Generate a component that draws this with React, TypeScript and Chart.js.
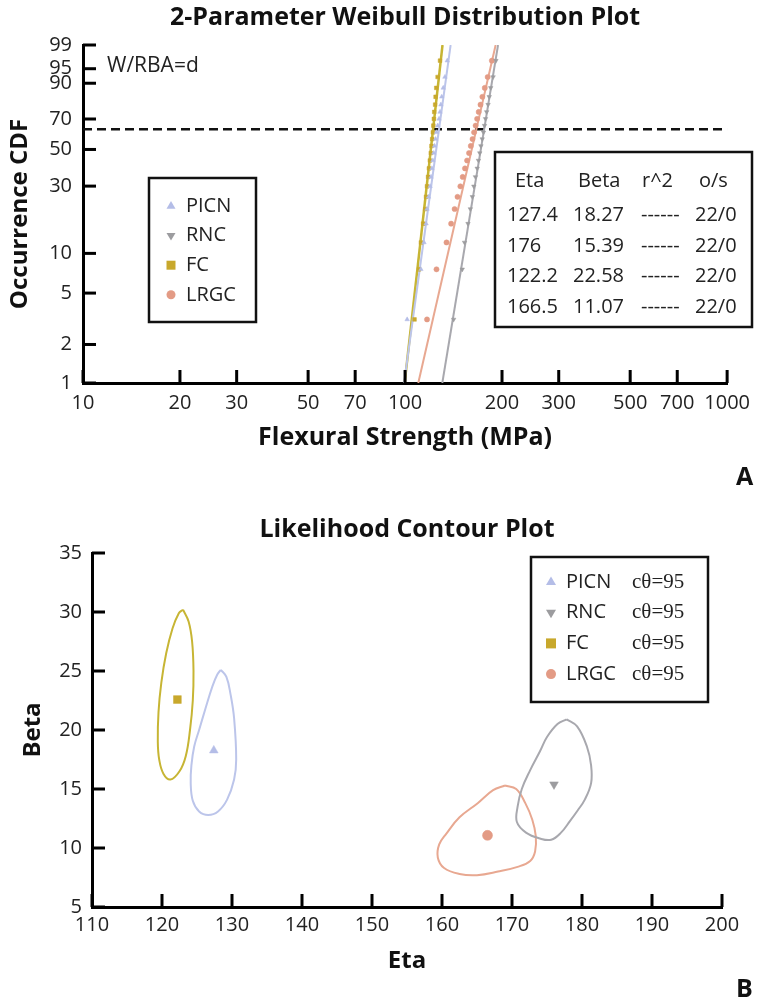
import React, { useEffect, useRef } from "react";
import { Chart, registerables } from "chart.js";

Chart.register(...registerables);

const SANS = '"Open Sans", "Noto Sans", sans-serif';
const SERIF = '"Liberation Serif", "DejaVu Serif", serif';
Chart.defaults.font.family = SANS;

// ---------- shared series info ----------
const SERIES = ["PICN", "RNC", "FC", "LRGC"];
const ETA = [127.4, 176, 122.2, 166.5];
const BETA = [18.27, 15.39, 22.58, 11.07];
const R_SQUARED = ["------", "------", "------", "------"];
const OS = ["22/0", "22/0", "22/0", "22/0"];
const CONFIDENCE = ["95", "95", "95", "95"];

const MARKER_COLORS = ["#b4bde7", "#9c9c9f", "#c8a82c", "#e39b85"];
const LINE_COLORS = ["#bcc5ea", "#a8a8ae", "#c7b534", "#e8a891"];
const POINT_STYLES = ["triangle", "triangle", "rect", "circle"];
const POINT_ROTATIONS = [0, 180, 0, 0];

// ---------- Weibull plot data ----------
const MEDIAN_RANKS = [3.13, 7.59, 12.05, 16.52, 20.98, 25.45, 29.91, 34.38, 38.84, 43.3, 47.77, 52.23, 56.7, 61.16, 65.63, 70.09, 74.55, 79.02, 83.48, 87.95, 92.41, 96.88];
const PICN_STRENGTH = [101.5, 112.0, 114.5, 116.2, 117.0, 118.3, 119.6, 120.4, 121.2, 122.0, 122.8, 123.5, 124.4, 125.2, 126.3, 127.5, 128.4, 129.2, 130.0, 131.4, 133.0, 135.2];
const RNC_STRENGTH = [141.5, 150.5, 153.0, 156.8, 159.5, 161.8, 163.5, 165.4, 167.5, 169.0, 170.6, 172.0, 173.6, 175.2, 176.5, 177.8, 179.2, 181.0, 182.5, 184.5, 187.6, 191.5];
const FC_STRENGTH = [107.0, 110.5, 112.0, 113.8, 115.5, 116.2, 117.0, 117.9, 118.6, 119.4, 120.2, 120.8, 121.4, 122.0, 122.4, 122.9, 123.2, 124.0, 124.4, 125.0, 126.2, 128.4];
const LRGC_STRENGTH = [117.0, 125.2, 134.5, 139.0, 142.5, 145.5, 148.5, 151.0, 153.5, 155.8, 158.0, 160.0, 162.0, 163.8, 165.6, 167.4, 169.3, 171.5, 173.8, 176.8, 180.5, 186.0];

const FIT_CDF = [1, 99];
const PICN_FIT = [99.3, 138.5];
const RNC_FIT = [130.5, 194.4];
const FC_FIT = [99.7, 130.7];
const LRGC_FIT = [109.9, 191.1];
const CHARACTERISTIC_CDF = 63.2;

const STRENGTH_TICKS = [10, 20, 30, 50, 70, 100, 200, 300, 500, 700, 1000];
const CDF_TICKS = [1, 2, 5, 10, 30, 50, 70, 90, 95, 99];

// ---------- Contour plot data ----------
const ETA_TICKS = [110, 120, 130, 140, 150, 160, 170, 180, 190, 200];
const BETA_TICKS = [5, 10, 15, 20, 25, 30, 35];

const PICN_CONTOUR_ETA = [128.4, 129.2, 129.8, 130.3, 130.6, 130.3, 129.3, 128.0, 126.6, 125.3, 124.4, 124.1, 124.2, 124.6, 125.3, 126.2, 127.2, 127.9, 128.4];
const PICN_CONTOUR_BETA = [25.1, 24.5, 23.0, 21.0, 17.5, 15.8, 14.1, 13.1, 12.8, 13.1, 14.0, 15.5, 17.0, 18.6, 20.0, 21.8, 23.7, 24.7, 25.1];
const RNC_CONTOUR_ETA = [177.8, 179.3, 180.7, 181.3, 181.3, 180.4, 179.4, 178.3, 177.0, 175.6, 174.0, 172.0, 170.7, 170.8, 171.4, 172.6, 174.0, 175.0, 176.5, 177.8];
const RNC_CONTOUR_BETA = [20.9, 20.3, 18.6, 17.0, 15.5, 14.1, 13.2, 12.3, 11.3, 10.7, 10.8, 11.3, 12.2, 13.5, 15.0, 16.6, 18.2, 19.4, 20.5, 20.9];
const FC_CONTOUR_ETA = [123.0, 123.8, 124.3, 124.5, 124.4, 124.0, 123.4, 122.5, 121.2, 120.2, 119.6, 119.4, 119.5, 119.9, 120.6, 121.5, 122.4, 123.0];
const FC_CONTOUR_BETA = [30.2, 29.2, 27.5, 25.0, 22.5, 20.0, 17.8, 16.5, 15.8, 16.3, 17.5, 19.0, 21.5, 24.0, 26.5, 28.6, 29.9, 30.2];
const LRGC_CONTOUR_ETA = [169.0, 170.6, 171.9, 172.9, 173.4, 173.3, 172.6, 170.8, 168.0, 165.0, 162.5, 160.3, 159.4, 159.6, 160.6, 162.5, 165.1, 167.3, 169.0];
const LRGC_CONTOUR_BETA = [15.3, 15.0, 13.8, 12.4, 11.0, 9.7, 8.9, 8.4, 8.0, 7.7, 7.8, 8.3, 9.2, 10.3, 11.2, 12.6, 13.8, 14.9, 15.3];

// ---------- helpers ----------
const weib = (p: number) => Math.log(-Math.log(1 - p / 100));

function drawMarker(ctx: CanvasRenderingContext2D, i: number, x: number, y: number, r: number) {
  ctx.save();
  ctx.fillStyle = MARKER_COLORS[i];
  ctx.beginPath();
  const style = POINT_STYLES[i];
  if (style === "circle") ctx.arc(x, y, r, 0, Math.PI * 2);
  else if (style === "rect") ctx.rect(x - r, y - r, 2 * r, 2 * r);
  else {
    const d = POINT_ROTATIONS[i] === 180 ? -1 : 1;
    ctx.moveTo(x, y - d * r * 1.1);
    ctx.lineTo(x - r, y + d * r * 0.6);
    ctx.lineTo(x + r, y + d * r * 0.6);
    ctx.closePath();
  }
  ctx.fill();
  ctx.restore();
}

// Inward tick marks: positions come from the scales' own value->pixel mapping.
function drawInwardTicks(chart: any) {
  const ctx = chart.ctx as CanvasRenderingContext2D;
  const area = chart.chartArea;
  const xs = chart.scales.x;
  const ys = chart.scales.y;
  const len = 13;
  ctx.save();
  ctx.globalAlpha = 1;
  ctx.globalCompositeOperation = "source-over";
  ctx.fillStyle = "#000";
  xs.ticks.forEach((t: any) => {
    const px = xs.getPixelForValue(t.value);
    ctx.fillRect(px - 1.5, area.bottom - len, 3, len);
  });
  ys.ticks.forEach((t: any) => {
    const py = ys.getPixelForValue(t.value);
    ctx.fillRect(area.left, py - 1.5, len, 3);
  });
  ctx.restore();
}

const weibullDecor = {
  id: "weibullDecor",
  afterDraw(chart: any) {
    drawInwardTicks(chart);
    const ctx = chart.ctx as CanvasRenderingContext2D;
    ctx.save();
    ctx.fillStyle = "#222";
    ctx.textBaseline = "middle";
    ctx.textAlign = "left";
    ctx.font = `21px ${SANS}`;
    ctx.fillText("W/RBA=d", 107, 66);
    ctx.font = `20px ${SANS}`;
    ctx.strokeStyle = "#111";
    ctx.lineWidth = 2.5;
    ctx.strokeRect(149, 178, 107, 144);
    SERIES.forEach((s, i) => {
      const y = 206 + i * 29.6;
      drawMarker(ctx, i, 171, y, 4.5);
      ctx.fillStyle = "#222";
      ctx.fillText(s, 186, y);
    });
    ctx.strokeRect(495, 152, 257, 175);
    ctx.fillStyle = "#222";
    ctx.fillText("Eta", 515, 181);
    ctx.fillText("Beta", 578, 181);
    ctx.fillText("r^2", 642, 181);
    ctx.fillText("o/s", 699, 181);
    SERIES.forEach((_, i) => {
      const y = 215 + i * 30.8;
      ctx.fillText(String(ETA[i]), 507, y);
      ctx.fillText(BETA[i].toFixed(2), 573, y);
      ctx.fillText(R_SQUARED[i], 641, y);
      ctx.fillText(OS[i], 695, y);
    });
    ctx.font = `bold 25px ${SANS}`;
    ctx.fillStyle = "#111";
    ctx.fillText("A", 736, 478);
    ctx.restore();
  },
};

const contourDecor = {
  id: "contourDecor",
  afterDraw(chart: any) {
    drawInwardTicks(chart);
    const ctx = chart.ctx as CanvasRenderingContext2D;
    ctx.save();
    ctx.textBaseline = "middle";
    ctx.textAlign = "left";
    ctx.strokeStyle = "#111";
    ctx.lineWidth = 2.5;
    ctx.strokeRect(531, 57, 177, 145);
    SERIES.forEach((s, i) => {
      const y = 82 + i * 30.7;
      drawMarker(ctx, i, 551, y, 5);
      ctx.fillStyle = "#222";
      ctx.font = `20px ${SANS}`;
      ctx.fillText(s, 566, y);
      ctx.font = `21px ${SERIF}`;
      ctx.fillText(`c\u03b8=${CONFIDENCE[i]}`, 632, y);
    });
    ctx.font = `bold 25px ${SANS}`;
    ctx.fillStyle = "#111";
    ctx.fillText("B", 736, 490);
    ctx.restore();
  },
};

const tickFont = { family: SANS, size: 20 };
const titleFont = { family: SANS, size: 25, weight: "bold" as const };
const axisTitleFont = { family: SANS, size: 24, weight: "bold" as const };
const NO_GRID = { display: false, drawTicks: false };

function weibullConfig(): any {
  const strengths = [PICN_STRENGTH, RNC_STRENGTH, FC_STRENGTH, LRGC_STRENGTH];
  const fits = [PICN_FIT, RNC_FIT, FC_FIT, LRGC_FIT];
  const datasets: any[] = [];
  SERIES.forEach((name, i) => {
    datasets.push({
      label: name,
      data: strengths[i].map((x, j) => ({ x, y: weib(MEDIAN_RANKS[j]) })),
      showLine: false,
      pointStyle: POINT_STYLES[i],
      pointRotation: POINT_ROTATIONS[i],
      pointRadius: 2.6,
      pointBackgroundColor: MARKER_COLORS[i],
      pointBorderColor: MARKER_COLORS[i],
      pointBorderWidth: 0.5,
      order: 0,
    });
  });
  SERIES.forEach((name, i) => {
    datasets.push({
      label: name + " fit",
      data: fits[i].map((x, j) => ({ x, y: weib(FIT_CDF[j]) })),
      showLine: true,
      pointRadius: 0,
      borderColor: LINE_COLORS[i],
      borderWidth: i === 2 ? 2.5 : 2,
      order: 1,
    });
  });
  datasets.push({
    label: "Eta line",
    data: [
      { x: STRENGTH_TICKS[0], y: weib(CHARACTERISTIC_CDF) },
      { x: STRENGTH_TICKS[STRENGTH_TICKS.length - 1], y: weib(CHARACTERISTIC_CDF) },
    ],
    showLine: true,
    pointRadius: 0,
    borderColor: "#111",
    borderWidth: 2.5,
    borderDash: [9, 5],
    order: 2,
  });

  return {
    type: "scatter",
    data: { datasets },
    options: {
      animation: false,
      responsive: false,
      maintainAspectRatio: false,
      layout: { padding: { left: 5, right: 30, top: 0, bottom: 0 } },
      plugins: {
        legend: { display: false },
        tooltip: { enabled: false },
        title: {
          display: true,
          fullSize: false,
          text: "2-Parameter Weibull Distribution Plot",
          font: titleFont,
          color: "#111",
          padding: { top: 3, bottom: 12 },
        },
      },
      scales: {
        x: {
          type: "logarithmic",
          min: STRENGTH_TICKS[0],
          max: STRENGTH_TICKS[STRENGTH_TICKS.length - 1],
          afterBuildTicks: (s: any) => {
            s.ticks = STRENGTH_TICKS.map((v) => ({ value: v }));
          },
          afterFit: (s: any) => {
            s.height = 117;
          },
          grid: NO_GRID,
          border: { display: true, color: "#000", width: 3 },
          ticks: {
            autoSkip: false,
            maxRotation: 0,
            padding: 8,
            font: tickFont,
            color: "#222",
            callback: (v: any) => String(v),
          },
          title: {
            display: true,
            text: "Flexural Strength (MPa)",
            font: titleFont,
            color: "#111",
            padding: { top: 0, bottom: 47 },
          },
        },
        y: {
          type: "linear",
          min: weib(CDF_TICKS[0]),
          max: weib(CDF_TICKS[CDF_TICKS.length - 1]),
          afterBuildTicks: (s: any) => {
            s.ticks = CDF_TICKS.map((p) => ({ value: weib(p) }));
          },
          afterFit: (s: any) => {
            s.width = 78;
          },
          grid: NO_GRID,
          border: { display: true, color: "#000", width: 3 },
          ticks: {
            autoSkip: false,
            padding: 11,
            font: tickFont,
            color: "#222",
            callback: (_v: any, i: number) => String(CDF_TICKS[i]),
          },
          title: {
            display: true,
            text: "Occurrence CDF",
            font: axisTitleFont,
            color: "#111",
            padding: { top: 1, bottom: 0 },
          },
        },
      },
    },
    plugins: [weibullDecor],
  };
}

function contourConfig(): any {
  const cEta = [PICN_CONTOUR_ETA, RNC_CONTOUR_ETA, FC_CONTOUR_ETA, LRGC_CONTOUR_ETA];
  const cBeta = [PICN_CONTOUR_BETA, RNC_CONTOUR_BETA, FC_CONTOUR_BETA, LRGC_CONTOUR_BETA];
  const datasets: any[] = [];
  SERIES.forEach((name, i) => {
    datasets.push({
      label: name,
      data: [{ x: ETA[i], y: BETA[i] }],
      showLine: false,
      pointStyle: POINT_STYLES[i],
      pointRotation: POINT_ROTATIONS[i],
      pointRadius: i === 2 ? 5.5 : 5,
      pointBackgroundColor: MARKER_COLORS[i],
      pointBorderColor: MARKER_COLORS[i],
      pointBorderWidth: 0.5,
      order: 0,
    });
  });
  SERIES.forEach((name, i) => {
    datasets.push({
      label: name + " contour",
      data: cEta[i].map((x, j) => ({ x, y: cBeta[i][j] })),
      showLine: true,
      tension: 0.4,
      pointRadius: 0,
      borderColor: LINE_COLORS[i],
      borderWidth: 2,
      order: 1,
    });
  });
  return {
    type: "scatter",
    data: { datasets },
    options: {
      animation: false,
      responsive: false,
      maintainAspectRatio: false,
      layout: { padding: { left: 5, right: 36, top: 0, bottom: 0 } },
      plugins: {
        legend: { display: false },
        tooltip: { enabled: false },
        title: {
          display: true,
          fullSize: false,
          text: "Likelihood Contour Plot",
          font: titleFont,
          color: "#111",
          padding: { top: 15, bottom: 8 },
        },
      },
      scales: {
        x: {
          type: "linear",
          min: ETA_TICKS[0],
          max: ETA_TICKS[ETA_TICKS.length - 1],
          afterBuildTicks: (s: any) => {
            s.ticks = ETA_TICKS.map((v) => ({ value: v }));
          },
          afterFit: (s: any) => {
            s.height = 95;
          },
          grid: NO_GRID,
          border: { display: true, color: "#000", width: 3 },
          ticks: { autoSkip: false, maxRotation: 0, padding: 6, font: tickFont, color: "#222" },
          title: {
            display: true,
            text: "Eta",
            font: axisTitleFont,
            color: "#111",
            padding: { top: 0, bottom: 26 },
          },
        },
        y: {
          type: "linear",
          min: BETA_TICKS[0],
          max: BETA_TICKS[BETA_TICKS.length - 1],
          afterBuildTicks: (s: any) => {
            s.ticks = BETA_TICKS.map((v) => ({ value: v }));
          },
          afterFit: (s: any) => {
            s.width = 87;
          },
          grid: NO_GRID,
          border: { display: true, color: "#000", width: 3 },
          ticks: { autoSkip: false, padding: 10, font: tickFont, color: "#222" },
          title: {
            display: true,
            text: "Beta",
            font: axisTitleFont,
            color: "#111",
            padding: { top: 14, bottom: 0 },
          },
        },
      },
    },
    plugins: [contourDecor],
  };
}

function ChartCanvas({ makeConfig, width, height }: { makeConfig: () => any; width: number; height: number }) {
  const ref = useRef<HTMLCanvasElement | null>(null);
  useEffect(() => {
    if (!ref.current) return;
    const chart = new Chart(ref.current, makeConfig());
    return () => chart.destroy();
  }, []);
  return <canvas ref={ref} width={width} height={height} style={{ display: "block", width, height }} />;
}

export default function App() {
  return (
    <div style={{ position: "absolute", left: 0, top: 0, width: 758, height: 1002, background: "#fff" }}>
      <ChartCanvas makeConfig={weibullConfig} width={758} height={500} />
      <ChartCanvas makeConfig={contourConfig} width={758} height={502} />
    </div>
  );
}
